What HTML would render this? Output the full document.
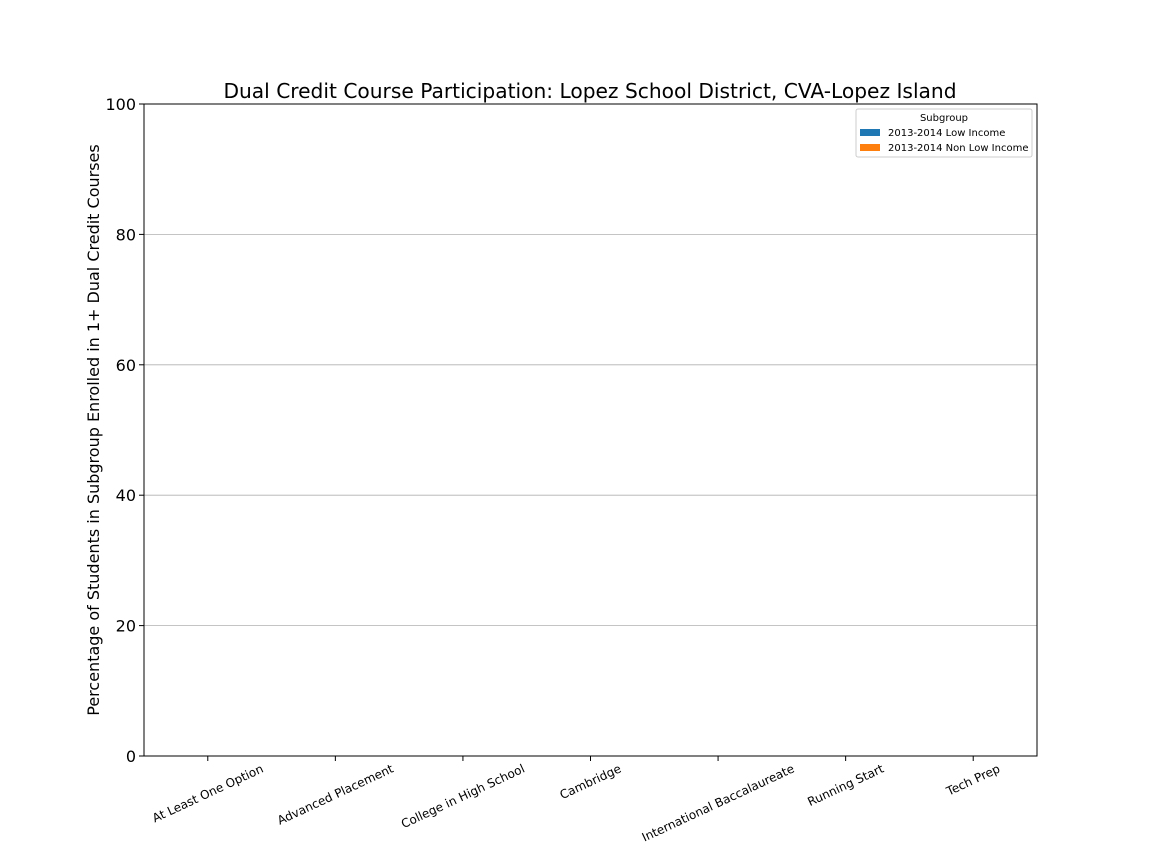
<!DOCTYPE html>
<html><head><meta charset="utf-8"><style>
body{margin:0;background:#fff;font-family:"DejaVu Sans","Liberation Sans",sans-serif;}
svg{display:block}
</style></head><body>
<svg id="chart" width="1152" height="864" font-family="DejaVu Sans, Liberation Sans, sans-serif">
<rect x="0" y="0" width="1152" height="864" fill="#fff"/>
<text x="590" y="98" text-anchor="middle" font-size="20.2">Dual Credit Course Participation: Lopez School District, CVA-Lopez Island</text>
<g id="grid"></g>
<g id="bars"></g>
<rect x="144" y="104" width="893" height="652" fill="none" stroke="#000" stroke-width="1"/>
<g id="yticks"></g>
<g id="xticks"></g>
<text transform="translate(99,430) rotate(-90)" text-anchor="middle" font-size="16">Percentage of Students in Subgroup Enrolled in 1+ Dual Credit Courses</text>
<g>
<rect x="856" y="109" width="176" height="48" fill="#fff" stroke="#ccc" rx="2"/>
<text x="944" y="121" text-anchor="middle" font-size="10">Subgroup</text>
<rect x="860" y="129" width="20" height="7" fill="#1f77b4"/>
<text x="888" y="136" font-size="10">2013-2014 Low Income</text>
<rect x="860" y="144" width="20" height="7" fill="#ff7f0e"/>
<text x="888" y="151" font-size="10">2013-2014 Non Low Income</text>
</g>
</svg>
<script>
const categories=["At Least One Option","Advanced Placement","College in High School","Cambridge","International Baccalaureate","Running Start","Tech Prep"];
const lowIncome=[0,0,0,0,0,0,0];
const nonLowIncome=[0,0,0,0,0,0,0];
const yTicks=[0,20,40,60,80,100];
const NS="http://www.w3.org/2000/svg";
const L=144,R=1037,T=104,B=756;
function y(v){return B-(v/100)*(B-T);}
const step=(R-L)/7;
function x(i){return L+step*(i+0.5);}
function mk(tag,attrs,parent){const e=document.createElementNS(NS,tag);for(const k in attrs)e.setAttribute(k,attrs[k]);document.getElementById(parent).appendChild(e);return e;}
yTicks.forEach(v=>{
 if(v>0&&v<100){const g=mk('line',{x1:L,x2:R,y1:y(v),y2:y(v),stroke:'#b0b0b0','stroke-width':0.8},'grid');
 
 }
 const t=mk('line',{x1:L-5,x2:L,y1:y(v),y2:y(v),stroke:'#000'},'yticks');
 
 
 const l=mk('text',{x:L-8,y:y(v)+6,'text-anchor':'end','font-size':16},'yticks');l.textContent=v;
 
 
});
const bw=step*0.4;
const ang=25*Math.PI/180;
categories.forEach((c,i)=>{
 const b1=mk('rect',{x:x(i)-bw,y:y(lowIncome[i]),width:bw,height:B-y(lowIncome[i]),fill:'#1f77b4'},'bars');
 
 
 const b2=mk('rect',{x:x(i),y:y(nonLowIncome[i]),width:bw,height:B-y(nonLowIncome[i]),fill:'#ff7f0e'},'bars');
 
 
 const t=mk('line',{x1:x(i),x2:x(i),y1:B,y2:B+5,stroke:'#000'},'xticks');
 
 
 const l=mk('text',{'text-anchor':'middle','font-size':12,'dominant-baseline':'central'},'xticks');
 l.textContent=c;
 
 
 const w=l.getComputedTextLength();
 const cy=B+6+(w*Math.sin(ang)+13*Math.cos(ang))/2;
 l.setAttribute('transform','translate('+x(i)+','+cy+') rotate(-25)');
});
</script>
</body></html>
